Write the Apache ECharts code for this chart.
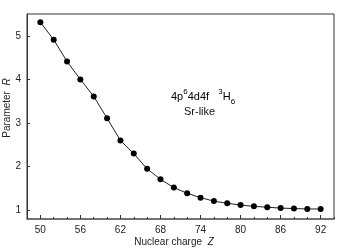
<!DOCTYPE html>
<html><head><meta charset="utf-8">
<script src="https://cdn.jsdelivr.net/npm/echarts@6/dist/echarts.min.js"></script>
<style>html,body{margin:0;padding:0;background:#fff}#c{width:348px;height:252px}</style>
</head><body><div id="c"></div>
<script>
var zValues = [50,52,54,56,58,60,62,64,66,68,70,72,74,76,78,80,82,84,86,88,90,92];
var rValues = [5.31,4.91,4.41,4.00,3.61,3.11,2.60,2.30,1.95,1.71,1.52,1.39,1.29,1.21,1.16,1.12,1.09,1.07,1.05,1.04,1.03,1.03];
var xTickLabels = [50,56,62,68,74,80,86,92];
var xMinorTicks = [48,50,52,54,56,58,60,62,64,66,68,70,72,74,76,78,80,82,84,86,88,90,92,94];
var yTickLabels = [1,2,3,4,5];

var FONT = 'Liberation Sans';
var chart = echarts.init(document.getElementById('c'), null, {renderer:'canvas'});
chart.setOption({
  animation:false,
  backgroundColor:'#fff',
  textStyle:{fontFamily:FONT},
  grid:{left:27,right:14,top:14,bottom:33,show:true,borderColor:'#333',borderWidth:1,containLabel:false,outerBoundsMode:'none'},
  xAxis:[{
    type:'value',min:48,max:94,
    axisLine:{show:true,lineStyle:{color:'#666',width:1.5}},
    axisTick:{show:true,inside:true,length:2,customValues:xMinorTicks,lineStyle:{color:'#333'}},
    axisLabel:{customValues:xTickLabels,fontSize:10,color:'#222',margin:6,fontFamily:FONT},
    splitLine:{show:false}
  },{
    type:'value',min:48,max:94,position:'bottom',
    axisLine:{show:false},
    axisTick:{show:true,inside:true,length:4,customValues:xTickLabels,lineStyle:{color:'#333'}},
    axisLabel:{show:false},splitLine:{show:false}
  }],
  yAxis:{
    type:'value',min:0.8,max:5.5,
    axisLine:{show:true,lineStyle:{color:'#333',width:1}},
    axisTick:{show:true,inside:true,length:3,customValues:yTickLabels,lineStyle:{color:'#333'}},
    axisLabel:{customValues:yTickLabels,fontSize:10,color:'#222',margin:6,fontFamily:FONT},
    splitLine:{show:false}
  },
  series:[{
    type:'line',
    data:zValues.map(function(z,i){return [z,rValues[i]];}),
    symbol:'circle',symbolSize:6,
    itemStyle:{color:'#000'},
    lineStyle:{color:'#222',width:1}
  }],
  graphic:[{
    type:'text',x:7,y:108,rotation:Math.PI/2,
    style:{
      text:'Parameter  {i|R}',align:'center',verticalAlign:'middle',
      fontFamily:FONT,fontSize:10,fill:'#222',
      rich:{i:{fontStyle:'italic',fontFamily:FONT,fontSize:10,color:'#222'}}
    }
  },{
    type:'text',x:174,y:242,
    style:{
      text:'Nuclear charge  {i|Z}',align:'center',verticalAlign:'middle',
      fontFamily:FONT,fontSize:10,fill:'#222',
      rich:{i:{fontStyle:'italic',fontFamily:FONT,fontSize:10,color:'#222'}}
    }
  },{
    type:'text',left:171,top:88,
    style:{
      text:'{a|4p}{s|6}{a|4d4f   }{s|3}{a|H}{b|6}',
      rich:{
        a:{fontFamily:FONT,fontSize:11,color:'#111',lineHeight:14,verticalAlign:'bottom'},
        s:{fontFamily:FONT,fontSize:8,color:'#111',lineHeight:14,verticalAlign:'top',padding:[0,0,6,0]},
        b:{fontFamily:FONT,fontSize:8,color:'#111',lineHeight:14,verticalAlign:'bottom',padding:[0,0,-4,0]}
      }
    }
  },{
    type:'text',left:184,top:106,
    style:{text:'Sr-like',fontFamily:FONT,fontSize:11,fill:'#111'}
  }]
});
</script></body></html>
